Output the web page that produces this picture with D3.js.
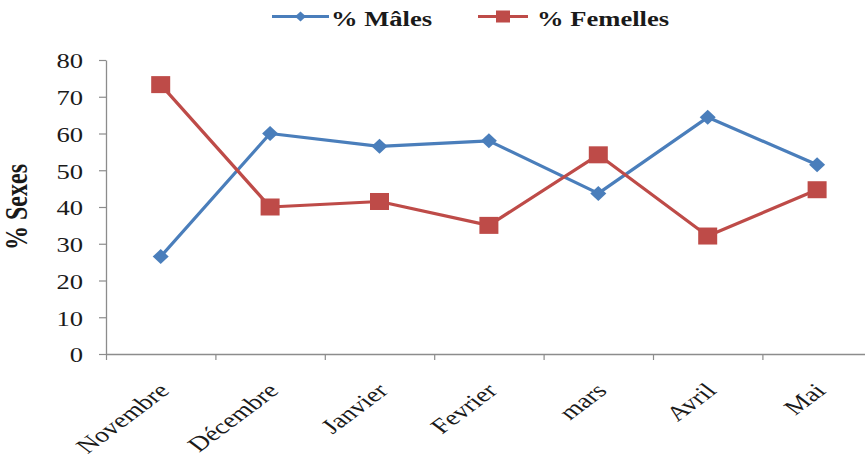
<!DOCTYPE html>
<html>
<head>
<meta charset="utf-8">
<script src="https://cdn.jsdelivr.net/npm/d3@7"></script>
<style>
  html, body { margin: 0; padding: 0; background: #fff; }
  svg { display: block; }
  text { font-family: "Liberation Serif", "Times New Roman", serif; fill: #1a1a1a; }
</style>
</head>
<body>
<svg id="chart" width="865" height="471"></svg>
<script>
// Monthly sex ratio (%)
const months = ["Novembre", "Décembre", "Janvier", "Fevrier", "mars", "Avril", "Mai"];
const males = [26.5, 60.0, 56.5, 58.0, 43.7, 64.4, 51.5];
const females = [73.3, 40.0, 41.5, 35.0, 54.2, 32.1, 44.7];
const yTicks = [0, 10, 20, 30, 40, 50, 60, 70, 80];
const seriesNames = ["% Mâles", "% Femelles"];
const seriesColors = ["#4a7ebb", "#be4b48"];

const SX = 1.33;          // horizontal stretch applied to text
const axisColor = "#8c8c8c";

const svg = d3.select("#chart");

const x = d3.scaleBand().domain(months).range([106, 106 + 7 * 109.4]).padding(0);
const y = d3.scaleLinear().domain([0, 80]).range([354, 60]);
const cx = d => x(d) + x.bandwidth() / 2;

// diamond marker path with given half-width / half-height
const diamond = (hw, hh) => `M0,${-hh}L${hw},0L0,${hh}L${-hw},0Z`;

// y axis
const yAxis = svg.append("g")
  .attr("transform", `translate(${x.range()[0]},0)`)
  .call(d3.axisLeft(y).tickValues(yTicks).tickSize(7).tickSizeOuter(0));
yAxis.select(".domain").attr("stroke", axisColor).attr("stroke-width", 1.3);
yAxis.selectAll(".tick line").attr("stroke", axisColor).attr("stroke-width", 1.2);
yAxis.selectAll(".tick text")
  .attr("x", null).attr("dy", null)
  .attr("text-anchor", "end")
  .attr("dominant-baseline", "central")
  .attr("transform", `translate(-23,1) scale(${SX},1)`)
  .style("font-size", "20px")
  .style("font-family", "Liberation Serif, serif")
  .attr("fill", "#2a2a2a");

// x axis: boundary ticks between categories
const xb = d3.scaleLinear().domain([0, months.length]).range(x.range());
const xAxis = svg.append("g")
  .attr("transform", `translate(0,${y(0)})`)
  .call(d3.axisBottom(xb).tickValues(d3.range(months.length + 1)).tickFormat("").tickSize(6).tickSizeOuter(0));
xAxis.select(".domain").attr("stroke", axisColor).attr("stroke-width", 1.3);
xAxis.selectAll(".tick line").attr("stroke", axisColor).attr("stroke-width", 1.2);

// category labels, rotated
const xLab = svg.append("g")
  .attr("transform", `translate(0,${y(0)})`)
  .call(d3.axisBottom(x).tickSize(0).tickSizeOuter(0));
xLab.select(".domain").remove();
xLab.selectAll(".tick text")
  .attr("x", null).attr("y", null).attr("dy", null)
  .attr("text-anchor", "end")
  .attr("transform", `translate(10,38) scale(${SX},1) rotate(-45)`)
  .style("font-size", "21px")
  .style("font-family", "Liberation Serif, serif")
  .attr("fill", "#2a2a2a");

// y axis title
svg.append("text")
  .attr("transform", `translate(27,207) scale(${SX},1) rotate(-90)`)
  .attr("text-anchor", "middle")
  .style("font-size", "24px")
  .style("font-weight", "bold")
  .text("% Sexes");

// series lines and markers
const series = [males, females];
const line = d3.line().x((d, i) => cx(months[i])).y(d => y(d));

series.forEach((vals, s) => {
  svg.append("path")
    .datum(vals)
    .attr("d", line)
    .attr("fill", "none")
    .attr("stroke", seriesColors[s])
    .attr("stroke-width", 3.2)
    .attr("stroke-linejoin", "round");
});

// diamonds for males
svg.append("g").selectAll("path")
  .data(males)
  .join("path")
  .attr("d", diamond(8, 7.5))
  .attr("transform", (d, i) => `translate(${cx(months[i])},${y(d)})`)
  .attr("fill", seriesColors[0]);

// squares for females
svg.append("g").selectAll("rect")
  .data(females)
  .join("rect")
  .attr("x", (d, i) => cx(months[i]) - 9.5)
  .attr("y", d => y(d) - 8.5)
  .attr("width", 19)
  .attr("height", 17)
  .attr("fill", seriesColors[1]);

// legend
const legend = svg.append("g");
const legendItems = [
  { x0: 272, x1: 329, text: 331 },
  { x0: 478, x1: 528, text: 537 }
];
legendItems.forEach((it, s) => {
  const ly = 16.5;
  legend.append("line")
    .attr("x1", it.x0).attr("x2", it.x1).attr("y1", ly).attr("y2", ly)
    .attr("stroke", seriesColors[s]).attr("stroke-width", 3);
  const mx = (it.x0 + it.x1) / 2;
  if (s === 0) {
    legend.append("path")
      .attr("d", diamond(5.5, 5))
      .attr("transform", `translate(${mx},${ly})`)
      .attr("fill", seriesColors[s]);
  } else {
    legend.append("rect")
      .attr("x", mx - 7).attr("y", ly - 6).attr("width", 14).attr("height", 12)
      .attr("fill", seriesColors[s]);
  }
  legend.append("text")
    .attr("transform", `translate(${it.text},26) scale(${SX},1)`)
    .style("font-size", "20px")
    .style("font-weight", "bold")
    .text(seriesNames[s]);
});
</script>
</body>
</html>
